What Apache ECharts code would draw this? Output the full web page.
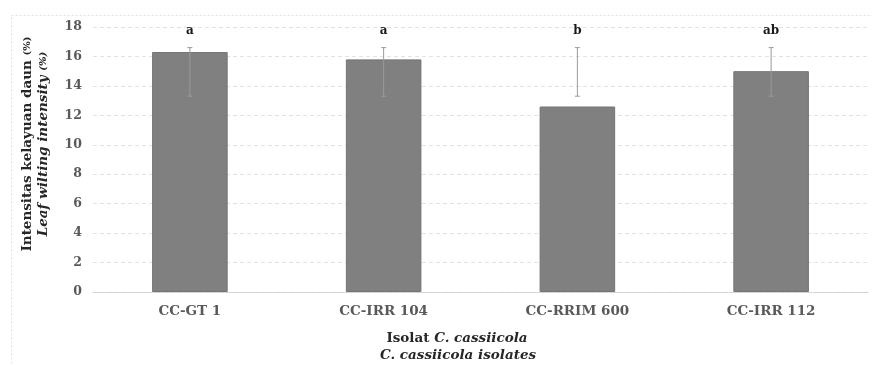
<!DOCTYPE html>
<html>
<head>
<meta charset="utf-8">
<script src="https://cdn.jsdelivr.net/npm/echarts@6/dist/echarts.min.js"></script>
<style>
html,body{margin:0;padding:0;background:#fff;}
#chart{width:872px;height:365px;}
</style>
</head>
<body>
<div id="chart"></div>
<script>
const categories = ['CC-GT 1', 'CC-IRR 104', 'CC-RRIM 600', 'CC-IRR 112'];
const meanValues = [16.3, 15.8, 12.6, 15.0];
const errLow = [13.3, 13.3, 13.3, 13.3];
const errHigh = [16.6, 16.6, 16.6, 16.6];
const letters = ['a', 'a', 'b', 'ab'];
const yTicks = { min: 0, max: 18, interval: 2 };

const FONT = 'DejaVu Serif';
const chart = echarts.init(document.getElementById('chart'));

const errData = categories.map((c, i) => [i, errLow[i], errHigh[i]]);

chart.setOption({
  animation: false,
  backgroundColor: '#fff',
  grid: { left: 93, right: 4, top: 27, bottom: 73 },
  graphic: [
    { type: 'rect', left: 9, top: 13, shape: { width: 900, height: 400 },
      style: { fill: 'none', stroke: '#e3e3e3', lineWidth: 1, lineDash: [2, 2] }, silent: true, z: -1 },
    { type: 'text', x: 27, y: 144, rotation: Math.PI / 2,
      style: { text: '{b|Intensitas kelayuan daun }{s|(%)}', align: 'center', verticalAlign: 'middle',
        rich: { b: { fontFamily: FONT, fontWeight: 'bold', fontSize: 13.5, fill: '#262626' },
                s: { fontFamily: FONT, fontWeight: 'bold', fontSize: 10, fill: '#262626' } } } },
    { type: 'text', x: 43, y: 144, rotation: Math.PI / 2,
      style: { text: '{b|Leaf wilting intensity }{s|(%)}', align: 'center', verticalAlign: 'middle',
        rich: { b: { fontFamily: FONT, fontWeight: 'bold', fontStyle: 'italic', fontSize: 13.5, fill: '#262626' },
                s: { fontFamily: FONT, fontWeight: 'bold', fontStyle: 'italic', fontSize: 10, fill: '#262626' } } } },
    { type: 'text', x: 457, y: 338,
      style: { text: '{n|Isolat }{i|C. cassiicola}', align: 'center', verticalAlign: 'middle',
        rich: { n: { fontFamily: FONT, fontWeight: 'bold', fontSize: 13.5, fill: '#262626' },
                i: { fontFamily: FONT, fontWeight: 'bold', fontStyle: 'italic', fontSize: 13.5, fill: '#262626' } } } },
    { type: 'text', x: 458, y: 355,
      style: { text: 'C. cassiicola isolates', align: 'center', verticalAlign: 'middle',
        fontFamily: FONT, fontWeight: 'bold', fontStyle: 'italic', fontSize: 13.5, fill: '#262626' } }
  ],
  xAxis: {
    type: 'category',
    data: categories,
    axisTick: { show: false },
    axisLine: { show: true, lineStyle: { color: '#d0d0d0', type: 'dotted', width: 1 } },
    axisLabel: { margin: 12, color: '#595959', fontFamily: FONT, fontWeight: 'bold', fontSize: 13.5 }
  },
  yAxis: {
    type: 'value',
    min: yTicks.min, max: yTicks.max, interval: yTicks.interval,
    axisLine: { show: false },
    axisTick: { show: false },
    axisLabel: { margin: 11, color: '#595959', fontFamily: FONT, fontWeight: 'bold', fontSize: 12.5 },
    splitLine: { lineStyle: { color: '#e2e2e2', type: [4, 3], width: 1 } }
  },
  series: [
    {
      type: 'bar',
      data: meanValues,
      barWidth: '39%',
      itemStyle: { color: '#808080', borderColor: '#747474', borderWidth: 1 },
      z: 2
    },
    {
      type: 'custom',
      data: errData,
      z: 3,
      renderItem: function (params, api) {
        const x = api.coord([api.value(0), 0])[0];
        const lo = api.coord([api.value(0), api.value(1)])[1];
        const hi = api.coord([api.value(0), api.value(2)])[1];
        const cap = 2.5;
        const st = { stroke: '#9a9a9a', lineWidth: 1 };
        return {
          type: 'group',
          children: [
            { type: 'line', shape: { x1: x, y1: hi, x2: x, y2: lo }, style: st },
            { type: 'line', shape: { x1: x - cap, y1: hi, x2: x + cap, y2: hi }, style: st },
            { type: 'line', shape: { x1: x - cap, y1: lo, x2: x + cap, y2: lo }, style: st },
            { type: 'text', x: x, y: hi - 17,
              style: { text: letters[params.dataIndex], align: 'center', verticalAlign: 'middle',
                fontFamily: FONT, fontWeight: 'bold', fontSize: 12, fill: '#1a1a1a' } }
          ]
        };
      }
    }
  ]
});
</script>
</body>
</html>
